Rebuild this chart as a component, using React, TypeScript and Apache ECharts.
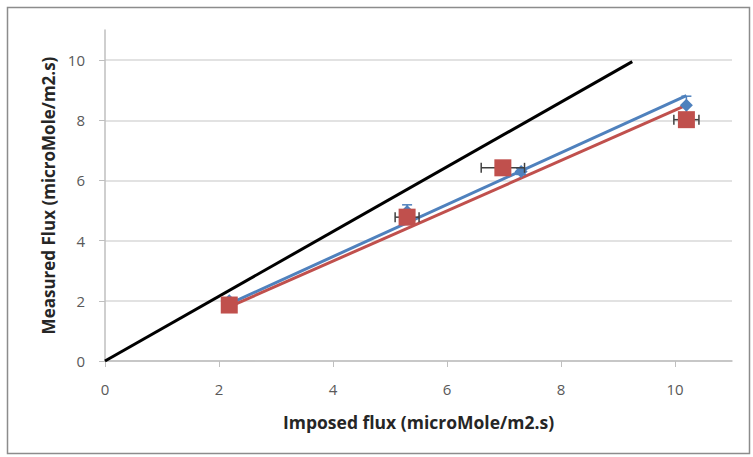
import React, { useEffect, useRef } from "react";
import * as echarts from "echarts";

const xTicks = [0, 2, 4, 6, 8, 10];
const blueX = [2.18, 5.3, 7.3, 10.2];
const blueY = [2.0, 4.97, 6.3, 8.5];
const blueYErr = [0.1, 0.22, 0.1, 0.3];
const redX = [2.18, 5.3, 6.98, 10.2];
const redY = [1.86, 4.78, 6.42, 8.02];
const redXErr = [0.05, 0.21, 0.38, 0.22];
const blueTrend = [[2.18, 1.9], [10.2, 8.82]];
const redTrend = [[2.18, 1.8], [10.2, 8.5]];
const identityLine = [[0, 0], [9.25, 9.95]];

const FONT = "'Open Sans', Lato, sans-serif";

export default function App() {
  const ref = useRef<HTMLDivElement>(null);
  useEffect(() => {
    document.body.style.margin = "0";
    const chart = echarts.init(ref.current!, null, { renderer: "svg" });
    const blueData = blueX.map((x, i) => [x, blueY[i]]);
    const redData = redX.map((x, i) => [x, redY[i]]);
    const blueErr = blueX.map((x, i) => [x, blueY[i], blueYErr[i]]);
    const redErr = redX.map((x, i) => [x, redY[i], redXErr[i]]);
    chart.setOption({
      animation: false,
      backgroundColor: "#ffffff",
      graphic: [
        {
          type: "rect",
          left: 5,
          top: 5,
          shape: { width: 742, height: 446 },
          style: { fill: "none", stroke: "#8c8c8c", lineWidth: 1.5 },
          silent: true,
        },
      ],
      grid: { left: 105, right: 21, top: 30, bottom: 96 },
      xAxis: {
        type: "value",
        min: 0,
        max: 11,
        interval: 2,
        name: "Imposed flux (microMole/m2.s)",
        nameLocation: "middle",
        nameGap: 52,
        nameTextStyle: { fontFamily: FONT, fontWeight: "bold", fontSize: 17.5, color: "#262626" },
        axisLine: { show: true, lineStyle: { color: "#bfbfbf", width: 1.5 } },
        axisTick: { show: true, length: 6, lineStyle: { color: "#bfbfbf" } },
        axisLabel: { fontFamily: FONT, fontSize: 15, color: "#595959", margin: 20, showMaxLabel: false },
        splitLine: { show: false },
      },
      yAxis: {
        type: "value",
        min: 0,
        max: 11,
        interval: 2,
        name: "Measured Flux (microMole/m2.s)",
        nameLocation: "middle",
        nameGap: 47,
        nameTextStyle: { fontFamily: FONT, fontWeight: "bold", fontSize: 17, color: "#262626" },
        axisLine: { show: true, lineStyle: { color: "#bfbfbf", width: 1.5 } },
        axisTick: { show: true, length: 6, lineStyle: { color: "#bfbfbf" } },
        axisLabel: { fontFamily: FONT, fontSize: 15, color: "#595959", margin: 20, showMaxLabel: false },
        splitLine: { show: true, showMaxLine: false, lineStyle: { color: "#d9d9d9", width: 1.5 } },
      },
      series: [
        {
          type: "line",
          data: identityLine,
          symbol: "none",
          lineStyle: { color: "#000000", width: 3 },
          z: 3,
        },
        {
          type: "line",
          data: blueTrend,
          symbol: "none",
          lineStyle: { color: "#4F81BD", width: 3 },
          z: 3,
        },
        {
          type: "line",
          data: redTrend,
          symbol: "none",
          lineStyle: { color: "#C0504D", width: 3 },
          z: 3,
        },
        {
          type: "custom",
          data: blueErr,
          z: 4,
          renderItem: (params: any, api: any) => {
            const x = api.value(0), y = api.value(1), e = api.value(2);
            const a = api.coord([x, y - e]);
            const b = api.coord([x, y + e]);
            const st = { stroke: "#4F81BD", lineWidth: 1.5 };
            return {
              type: "group",
              children: [
                { type: "line", shape: { x1: a[0], y1: a[1], x2: b[0], y2: b[1] }, style: st },
                { type: "line", shape: { x1: a[0] - 5, y1: a[1], x2: a[0] + 5, y2: a[1] }, style: st },
                { type: "line", shape: { x1: b[0] - 5, y1: b[1], x2: b[0] + 5, y2: b[1] }, style: st },
              ],
            };
          },
        },
        {
          type: "scatter",
          data: blueData,
          symbol: "diamond",
          symbolSize: 13,
          itemStyle: { color: "#4F81BD", opacity: 1 },
          z: 5,
        },
        {
          type: "custom",
          data: redErr,
          z: 6,
          renderItem: (params: any, api: any) => {
            const x = api.value(0), y = api.value(1), e = api.value(2);
            const a = api.coord([x - e, y]);
            const b = api.coord([x + e, y]);
            const st = { stroke: "#404040", lineWidth: 1.5 };
            return {
              type: "group",
              children: [
                { type: "line", shape: { x1: a[0], y1: a[1], x2: b[0], y2: b[1] }, style: st },
                { type: "line", shape: { x1: a[0], y1: a[1] - 5, x2: a[0], y2: a[1] + 5 }, style: st },
                { type: "line", shape: { x1: b[0], y1: b[1] - 5, x2: b[0], y2: b[1] + 5 }, style: st },
              ],
            };
          },
        },
        {
          type: "scatter",
          data: redData,
          symbol: "rect",
          symbolSize: 17,
          itemStyle: { color: "#C0504D", opacity: 1 },
          z: 7,
        },
      ],
    });
    return () => chart.dispose();
  }, []);
  return <div ref={ref} style={{ width: 753, height: 457 }} />;
}
